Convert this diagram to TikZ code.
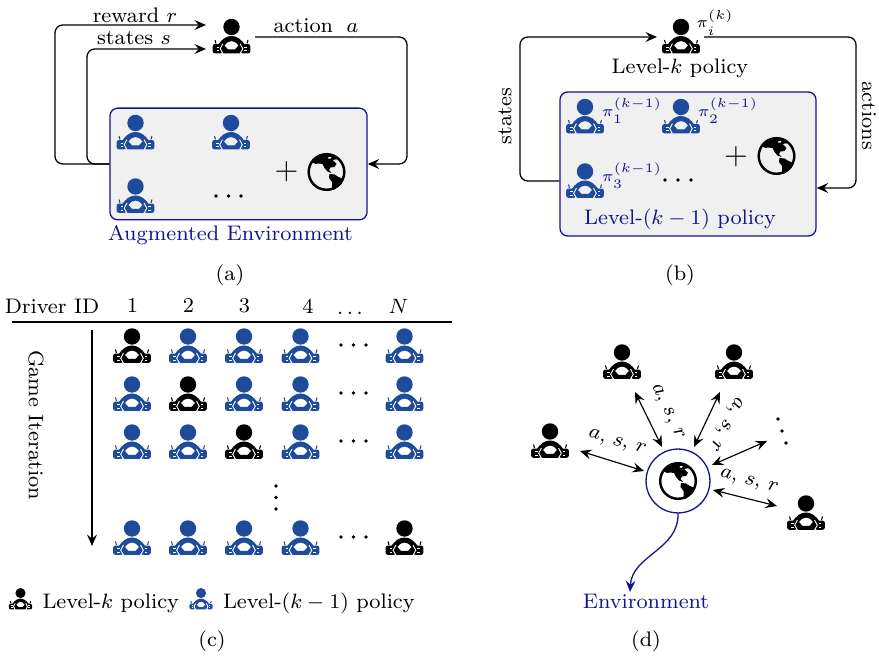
\documentclass[tikz,border=0pt]{standalone}
\usetikzlibrary{arrows.meta}
\definecolor{navyt}{RGB}{20,20,140}
\definecolor{iconblue}{RGB}{30,75,155}
\definecolor{boxgray}{RGB}{240,240,240}
\def\uu{0.385pt}
\tikzset{
  conn/.style={line width=0.5pt,rounded corners=3pt,-{Stealth[length=4.4pt,width=3.8pt,inset=1.6pt]}},
  both/.style={line width=0.45pt,{Stealth[length=4.4pt,width=3.8pt,inset=1.6pt]}-{Stealth[length=4.4pt,width=3.8pt,inset=1.6pt]}},
  plain/.style={line width=0.5pt},
  panel/.style={draw=navyt,fill=boxgray,line width=0.5pt,rounded corners=3pt,inner sep=0pt},
  slot/.style={inner sep=0pt,minimum width=14pt,minimum height=13pt},
  txt/.style={inner sep=0pt,text=black},
  ntxt/.style={inner sep=0pt,text=navyt},
  tiny dot/.style={fill=black,circle,inner sep=0pt,minimum size=1.4pt},
  driver/.pic={
    \fill[#1] (0,-9.5) circle[radius=8.2];
    \fill[#1,even odd rule] (-14,9.5) .. controls (-10,2.5) and (-5,-0.5) .. (0,-0.5)
        .. controls (5,-0.5) and (10,2.5) .. (14,9.5) -- (9,16.8) -- (-9,16.8) -- cycle
        (-7,9) .. controls (-4.5,5.5) and (-2,4.6) .. (0,4.6) .. controls (2,4.6) and (4.5,5.5) .. (7,9) -- (3.5,13) -- (-3.5,13) -- cycle;
    \foreach \s in {-1,1}{
      \fill[#1,rounded corners=0.8pt]
        (\s*18.8,7.6) -- (\s*18.8,16.8) -- (\s*8.8,16.8) -- (\s*11.5,12.2) -- (\s*8.8,7.6) -- cycle;
      \draw[white,line width=0.35pt] (\s*8.6,7.2) -- (\s*11.3,12.2) -- (\s*8.6,17);
      \draw[white,line width=0.2pt] (\s*15,10.5) -- (\s*12.5,10.5) (\s*15,13.8) -- (\s*12.5,13.8);
      \draw[#1,line width=0.4pt] (\s*16.5,3.5) -- (\s*15.5,7);
    }
  },
  globe/.pic={
    \draw[black,line width=0.95pt] (0,0) circle[radius=17.8];
    \fill[black,even odd rule] (-15,-10) -- (-9,-16) -- (-2,-18.2) -- (5,-18) -- (10,-15) -- (13,-13) -- (9,-12.5) -- (6,-12) -- (8,-10) -- (10,-8) -- (8,-5) -- (4,-4.5) -- (2.5,-2) -- (5,1) -- (1,-0.5) -- (-2,-4) -- (-4,-8) -- (-8,-8.5) -- (-11,-8) -- cycle
      (2,-15) -- (5,-15) -- (4,-13) -- (1.5,-13.5) -- cycle;
    \fill[black] (3,2) -- (8,2.5) -- (12,5) -- (17,7) -- (15,12) -- (10,16) -- (7,18) -- (5.5,17) -- (5.5,10) -- (2.5,6) -- cycle;
  }
}
\newcommand{\Drv}[5][1]{%
  \node[slot] (#2) at (#3,#4) {};
  \pic[scale=#1] at (#2.center) {driver=#5};
}
\newcommand{\Glb}[3]{%
  \node[slot] (#1) at (#2,#3) {};
  \pic at (#1.center) {globe};
}
\begin{document}
\begin{tikzpicture}[x=\uu,y=-\uu,font=\fontsize{8.1}{9.6}\selectfont]
\useasboundingbox (0,0) rectangle (879,656);

% ---------- (a)
\node[panel,minimum width=99pt,minimum height=43pt] (abox) at (238.5,164) {};
\Drv{adrv}{231.5}{36.5}{black}
\Drv{aa}{135.5}{132.5}{iconblue}
\Drv{ab}{231}{132.5}{iconblue}
\Drv{ac}{135.5}{196}{iconblue}
\Glb{aglobe}{326.5}{172}
\node[txt,font=\fontsize{12}{12}\selectfont] (aplus) at (286.5,172) {$+$};
\node[tiny dot] (ad1) at (216,196) {};
\node[tiny dot] (ad2) at (228.5,196) {};
\node[tiny dot] (ad3) at (241,196) {};
\node[txt] (lr) at (135,15) {reward $r$};
\node[txt] (ls) at (134,38) {states $s$};
\node[txt] (la) at (316,26) {action\hspace{1.5ex}$a$};
\node[ntxt] (lae) at (230.5,235) {Augmented Environment};
\node[txt] (capa) at (230,275) {(a)};
\coordinate (ar0) at (206,25);
\coordinate (as0) at (206,49);
\coordinate (aa0) at (255,37);
\draw[conn] (abox.west) -- (55,164) -- (55,25) -- (ar0);
\draw[conn] (abox.west) -- (87,164) -- (87,49) -- (as0);
\draw[conn] (aa0) -- (407,37) -- (407,164) -- (abox.east);

% ---------- (b)
\node[panel,minimum width=98.6pt,minimum height=55.4pt] (bbox) at (688,164) {};
\Drv{bdrv}{681}{36.5}{black}
\node[txt] (bpi) at (715,22.5) {$\scriptstyle\pi_i^{(k)}$};
\node[txt] (blk) at (680,68) {Level-$k$ policy};
\Drv{ba}{585}{116.5}{iconblue}
\Drv{bb}{681}{116.5}{iconblue}
\Drv{bc}{585}{181}{iconblue}
\node[ntxt] (bp1) at (632,111) {$\scriptstyle\pi_1^{(k-1)}$};
\node[ntxt] (bp2) at (728,111) {$\scriptstyle\pi_2^{(k-1)}$};
\node[ntxt] (bp3) at (632,176) {$\scriptstyle\pi_3^{(k-1)}$};
\node[tiny dot] (bd1) at (665,180) {};
\node[tiny dot] (bd2) at (678,180) {};
\node[tiny dot] (bd3) at (691,180) {};
\node[txt,font=\fontsize{12}{12}\selectfont] (bplus) at (736,157) {$+$};
\Glb{bglobe}{776.5}{156}
\node[ntxt] (blk1) at (680,219) {Level-$(k-1)$ policy};
\node[txt,rotate=90] (bst) at (505,116) {states};
\node[txt,rotate=-90] (bac) at (869,116) {actions};
\node[txt] (capb) at (680,275) {(b)};
\coordinate (bs0) at (657,37);
\coordinate (ba0) at (704,37);
\coordinate (bs1) at (bbox.west |- 0,181);
\coordinate (ba1) at (bbox.east |- 0,188);
\draw[conn] (bs1) -- (520,181) -- (520,37) -- (bs0);
\draw[conn] (ba0) -- (856,37) -- (856,188) -- (ba1);

% ---------- (c)
\node[txt] (hd) at (52,306) {Driver ID};
\node[txt] (h1) at (132.5,306) {1};
\node[txt] (h2) at (188.5,306) {2};
\node[txt] (h3) at (244.5,306) {3};
\node[txt] (h4) at (308,306) {4};
\node[txt] (hdots) at (350,313) {$\dots$};
\node[txt] (hN) at (398.5,306) {$N$};
\coordinate (rl) at (12,322);
\coordinate (rr) at (452,322);
\draw[plain] (rl) -- (rr);
\coordinate (g0) at (92,330);
\coordinate (g1) at (92,546);
\draw[conn] (g0) -- (g1);
\node[txt,rotate=-90] (gi) at (36,425) {Game Iteration};
\foreach \yy/\r/\bk in {346/1/1,394/2/2,442/3/3,538/4/0}{
  \foreach \xx/\c in {132/1,188/2,244/3,300.5/4,404.5/5}{
    \pgfmathsetmacro{\iscol}{(\c==\bk || (\bk==0 && \c==5)) ? 1 : 0}
    \ifdim\iscol pt>0.5pt
      \Drv{c\r\c}{\xx}{\yy}{black}
    \else
      \Drv{c\r\c}{\xx}{\yy}{iconblue}
    \fi
  }
  \foreach \xx/\k in {341/1,353.5/2,366/3}{
    \node[tiny dot] (d\r\k) at (\xx,\yy-1) {};
  }
}
\node[tiny dot] (v1) at (276,486) {};
\node[tiny dot] (v2) at (276,497.5) {};
\node[tiny dot] (v3) at (276,509) {};
\Drv[0.62]{lg1}{20.5}{599}{black}
\node[txt,anchor=base west] (lt1) at (42,609) {Level-$k$ policy};
\Drv[0.62]{lg2}{201}{599}{iconblue}
\node[txt,anchor=base west] (lt2) at (222.5,609) {Level-$(k-1)$ policy};
\node[txt] (capc) at (212,641) {(c)};

% ---------- (d)
\node[draw=navyt,circle,line width=0.5pt,minimum size=24.6pt,inner sep=0pt] (dc) at (678,481) {};
\pic at (dc.center) {globe};
\Drv{d1}{550}{441}{black}
\Drv{d2}{622}{362}{black}
\Drv{d3}{734}{362}{black}
\Drv{d4}{806}{513}{black}
\coordinate (e1a) at (580,451); \coordinate (e1b) at (644,471);
\coordinate (e2a) at (635,392); \coordinate (e2b) at (662,447);
\coordinate (e3a) at (720,392); \coordinate (e3b) at (694,447);
\coordinate (e4a) at (767,441); \coordinate (e4b) at (712,465);
\coordinate (e5a) at (777,506); \coordinate (e5b) at (713,490);
\draw[both] (e1a) -- (e1b);
\draw[both] (e2a) -- (e2b);
\draw[both] (e3a) -- (e3b);
\draw[both] (e4a) -- (e4b);
\draw[both] (e5a) -- (e5b);
\node[txt,rotate=-17] (t1) at (617,443) {$a,\,s,\,r$};
\node[txt,rotate=-65] (t2) at (667,412) {$a,\,s,\,r$};
\node[txt,rotate=243] (t3) at (725,424) {$a,\,s,\,r$};
\node[txt,rotate=-15] (t5) at (749,482) {$a,\,s,\,r$};
\node[tiny dot] (u1) at (778,419) {};
\node[tiny dot] (u2) at (782,431) {};
\node[tiny dot] (u3) at (786,443) {};
\node[ntxt] (den) at (646,601) {Environment};
\coordinate (dtip) at (630,592);
\draw[line width=0.5pt,draw=navyt,-{Stealth[length=4.4pt,width=3.8pt,inset=1.6pt,fill=navyt]}]
  (dc.south) .. controls (679,550) and (632,555) .. (dtip);
\node[txt] (capd) at (646,641) {(d)};
\end{tikzpicture}
\end{document}
